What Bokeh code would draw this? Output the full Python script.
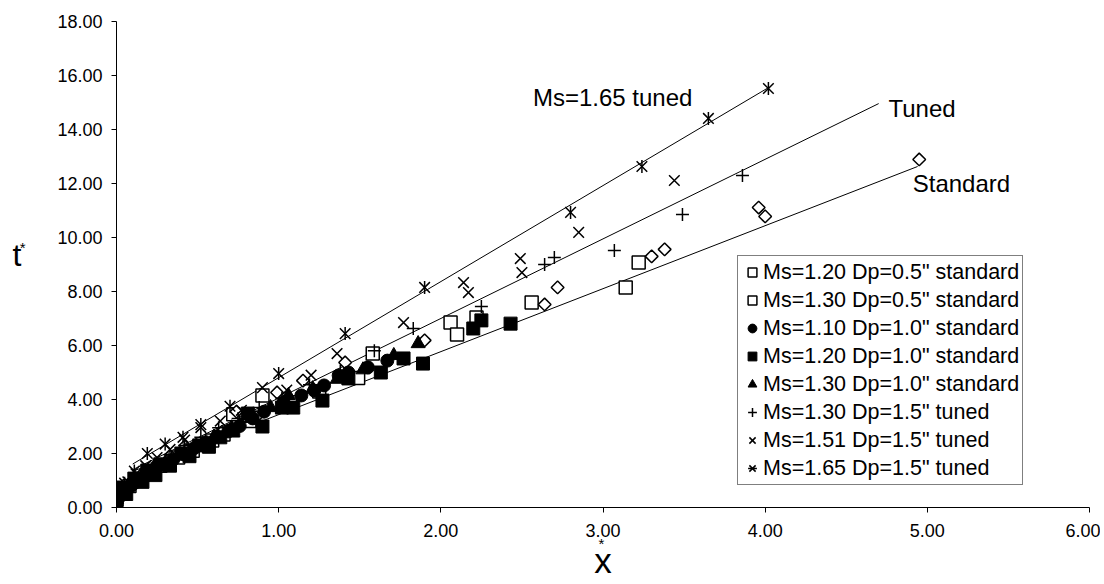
from bokeh.plotting import figure
from bokeh.models import Range1d, FixedTicker, PrintfTickFormatter, Legend, LegendItem, Label, LinearAxis
from bokeh.embed import file_html
from bokeh.resources import INLINE

# ---------------- data ----------------
X_TICKS = [0, 1, 2, 3, 4, 5, 6]
Y_TICKS = [0, 2, 4, 6, 8, 10, 12, 14, 16, 18]

# Ms=1.20 Dp=0.5" standard (open square)
x1 = [0.00, 0.03, 0.08, 0.14, 0.20, 0.27, 0.38, 0.47, 0.59, 0.66, 0.72, 0.82, 0.90, 1.07, 1.25, 1.49, 1.58, 2.06, 2.10, 2.22, 2.56, 3.14, 3.22]
y1 = [0.30, 0.55, 0.80, 1.05, 1.30, 1.55, 1.85, 2.10, 2.48, 2.70, 3.45, 3.20, 4.15, 3.90, 4.30, 4.80, 5.70, 6.85, 6.41, 7.04, 7.59, 8.15, 9.07]
# Ms=1.30 Dp=0.5" standard (open diamond)
x2 = [0.00, 0.04, 0.10, 0.17, 0.24, 0.32, 0.43, 0.55, 0.65, 0.74, 0.86, 0.99, 1.15, 1.41, 1.90, 2.64, 2.72, 3.30, 3.38, 3.96, 4.00, 4.95]
y2 = [0.25, 0.60, 0.90, 1.20, 1.45, 1.75, 2.10, 2.40, 2.80, 3.55, 3.35, 4.26, 4.70, 5.37, 6.19, 7.52, 8.15, 9.30, 9.56, 11.11, 10.78, 12.89]
# Ms=1.10 Dp=1.0" standard (filled circle)
x3 = [0.00, 0.02, 0.05, 0.09, 0.13, 0.18, 0.23, 0.29, 0.35, 0.41, 0.48, 0.55, 0.62, 0.69, 0.76, 0.84, 0.91, 1.03, 1.14, 1.22, 1.28, 1.37, 1.43, 1.55, 1.67]
y3 = [0.20, 0.40, 0.60, 0.80, 0.98, 1.18, 1.38, 1.58, 1.78, 1.98, 2.20, 2.42, 2.62, 2.82, 3.02, 3.30, 3.55, 3.89, 4.15, 4.33, 4.52, 4.89, 5.00, 5.19, 5.44]
# Ms=1.20 Dp=1.0" standard (filled square)
x4 = [0.00, 0.02, 0.06, 0.11, 0.16, 0.19, 0.24, 0.27, 0.33, 0.40, 0.45, 0.51, 0.57, 0.64, 0.72, 0.81, 0.90, 1.02, 1.09, 1.27, 1.43, 1.63, 1.77, 1.89, 2.20, 2.25, 2.43]
y4 = [0.10, 0.74, 0.50, 1.07, 0.95, 1.37, 1.20, 1.60, 1.55, 2.00, 1.90, 2.30, 2.25, 2.60, 2.85, 3.48, 3.00, 3.70, 3.70, 3.96, 4.78, 5.00, 5.52, 5.33, 6.63, 6.93, 6.81]
# Ms=1.30 Dp=1.0" standard (filled triangle)
x5 = [0.00, 0.04, 0.09, 0.15, 0.22, 0.30, 0.39, 0.49, 0.60, 0.71, 0.83, 0.95, 1.06, 1.21, 1.36, 1.52, 1.71, 1.86]
y5 = [0.30, 0.55, 0.85, 1.10, 1.35, 1.65, 1.95, 2.25, 2.60, 2.95, 3.30, 3.70, 4.15, 4.40, 4.75, 5.10, 5.63, 6.07]
# Ms=1.30 Dp=1.5" tuned (plus)
x6 = [0.00, 0.03, 0.07, 0.12, 0.18, 0.25, 0.33, 0.42, 0.52, 0.63, 0.75, 0.88, 1.02, 1.19, 1.38, 1.59, 1.83, 2.25, 2.64, 2.70, 3.07, 3.49, 3.86]
y6 = [0.15, 0.55, 0.85, 1.10, 1.40, 1.65, 1.95, 2.30, 2.60, 2.95, 3.30, 3.70, 4.05, 4.55, 5.05, 5.81, 6.63, 7.44, 9.00, 9.26, 9.52, 10.85, 12.30]
# Ms=1.51 Dp=1.5" tuned (x)
x7 = [0.00, 0.03, 0.07, 0.12, 0.18, 0.25, 0.33, 0.42, 0.52, 0.64, 0.77, 0.90, 1.05, 1.20, 1.36, 1.77, 2.14, 2.17, 2.49, 2.50, 2.85, 3.44]
y7 = [0.00, 0.60, 0.95, 1.25, 1.55, 1.85, 2.15, 2.50, 2.96, 3.20, 3.60, 4.44, 4.35, 4.90, 5.70, 6.85, 8.33, 7.96, 9.22, 8.70, 10.19, 12.11]
# Ms=1.65 Dp=1.5" tuned (asterisk)
x8 = [0.00, 0.05, 0.11, 0.19, 0.30, 0.41, 0.52, 0.70, 1.00, 1.41, 1.90, 2.80, 3.24, 3.65, 4.02]
y8 = [0.00, 0.90, 1.35, 2.00, 2.35, 2.60, 3.07, 3.75, 4.96, 6.44, 8.15, 10.93, 12.63, 14.41, 15.52]

# fitted lines (start / end points)
line165_x = [0.10, 4.02]
line165_y = [1.61, 15.55]
tuned_x = [0.10, 4.70]
tuned_y = [1.40, 14.96]
std_x = [0.10, 4.94]
std_y = [1.34, 12.63]

LABELS = ['Ms=1.20 Dp=0.5" standard', 'Ms=1.30 Dp=0.5" standard', 'Ms=1.10 Dp=1.0" standard',
          'Ms=1.20 Dp=1.0" standard', 'Ms=1.30 Dp=1.0" standard', 'Ms=1.30 Dp=1.5" tuned',
          'Ms=1.51 Dp=1.5" tuned', 'Ms=1.65 Dp=1.5" tuned']

# ---------------- figure ----------------
FONT = "Liberation Sans"
NARROW = "'Liberation Sans Narrow', 'Liberation Sans', sans-serif"

p = figure(width=1100, height=584, output_backend="svg", toolbar_location=None,
           x_range=Range1d(0, 6), y_range=Range1d(0, 18),
           min_border_left=116, min_border_right=11, min_border_top=21, min_border_bottom=77)
p.outline_line_color = None
p.xgrid.visible = False
p.ygrid.visible = False
p.background_fill_color = "white"

for ax, ticks in ((p.xaxis, X_TICKS), (p.yaxis, Y_TICKS)):
    ax.ticker = FixedTicker(ticks=ticks)
    ax.formatter = PrintfTickFormatter(format="%.2f")
    ax.axis_line_color = "black"
    ax.axis_line_width = 1
    ax.major_tick_line_color = "black"
    ax.major_tick_out = 5
    ax.major_tick_in = 0
    ax.minor_tick_line_color = None
    ax.major_label_text_font = NARROW
    ax.major_label_text_font_size = "18px"
    ax.major_label_text_color = "black"
p.yaxis.major_label_standoff = 9
p.xaxis.major_label_standoff = 11


def blank_axis(label="", size="10px", standoff=0, font=FONT, tick=None, tick_text="", tick_size="10px",
               tick_standoff=0, tick_font=FONT):
    ax = LinearAxis(ticker=FixedTicker(ticks=[] if tick is None else [tick]), axis_label=label,
                    axis_line_color=None, major_tick_line_color=None, minor_tick_line_color=None,
                    major_tick_out=0, major_tick_in=0, minor_tick_out=0, minor_tick_in=0,
                    major_label_standoff=tick_standoff, axis_label_standoff=standoff,
                    major_label_text_font=tick_font, major_label_text_font_size=tick_size,
                    major_label_text_color="black",
                    axis_label_text_font=font, axis_label_text_font_size=size,
                    axis_label_text_font_style="normal", axis_label_text_color="black")
    if tick is not None:
        ax.major_label_overrides = {tick: tick_text}
    return ax


# x-axis title "x*": the raised "*" as a single tick label, "x" as the axis label below it
p.add_layout(blank_axis("x", "35px", -14, font=NARROW, tick=2.99, tick_text="*", tick_size="15px",
                        tick_standoff=-5), "below")
# y-axis title "t*" (single tick labels so they sit at the right height)
p.add_layout(blank_axis(tick=9.63, tick_text="*", tick_size="15px", tick_standoff=29), "left")
p.add_layout(blank_axis(tick=9.37, tick_text="t", tick_size="32px", tick_standoff=-5), "left")

# lines
for lx, ly in ((line165_x, line165_y), (tuned_x, tuned_y), (std_x, std_y)):
    p.line(lx, ly, line_color="black", line_width=1)

# series
r1 = p.scatter(x1, y1, marker="square", size=13, fill_color="white", line_color="black", line_width=1.5)
r2 = p.scatter(x2, y2, marker="square", angle=0.7853981634, size=9, fill_color="white", line_color="black", line_width=1.5)
r3 = p.scatter(x3, y3, marker="circle", size=13, fill_color="black", line_color="black")
r4 = p.scatter(x4, y4, marker="square", size=13, fill_color="black", line_color="black")
r5 = p.scatter(x5, y5, marker="triangle", size=14, fill_color="black", line_color="black")
r6 = p.scatter(x6, y6, marker="cross", size=13, line_color="black", line_width=1.5)
r7 = p.scatter(x7, y7, marker="x", size=15, line_color="black", line_width=1.5)
r8a = p.scatter(x8, y8, marker="x", size=15, line_color="black", line_width=1.5)
r8b = p.scatter(x8, y8, marker="dash", angle=1.5707963268, size=13, line_color="black", line_width=1.5)

renderers = [[r1], [r2], [r3], [r4], [r5], [r6], [r7], [r8a, r8b]]
legend = Legend(items=[LegendItem(label=lab, renderers=rs) for lab, rs in zip(LABELS, renderers)],
                location=(621, 22))
legend.label_text_font = FONT
legend.label_text_font_size = "21.5px"
legend.label_text_color = "black"
legend.glyph_width = 22
legend.glyph_height = 26
legend.label_height = 26
legend.spacing = 2
legend.padding = 3
legend.margin = 0
legend.label_standoff = -5
legend.border_line_color = "black"
legend.border_line_width = 1
legend.background_fill_color = "white"
legend.background_fill_alpha = 1
p.add_layout(legend, "center")


def lab(x, y, text, size):
    p.add_layout(Label(x=x, y=y, text=text, text_font=FONT, text_font_size=size,
                       text_align="left", text_baseline="middle", text_color="black"))


lab(2.568, 15.19, "Ms=1.65 tuned", "24px")
lab(4.76, 14.78, "Tuned", "24px")
lab(4.91, 12.0, "Standard", "24px")

open("out.html", "w").write(file_html(p, INLINE))
